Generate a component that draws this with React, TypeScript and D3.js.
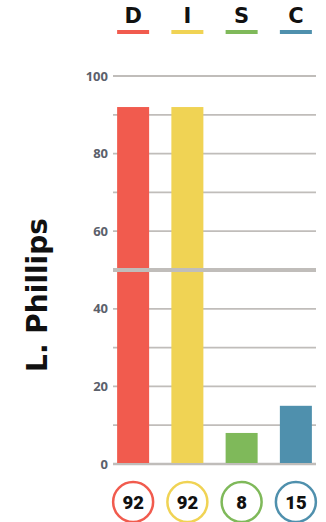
import React, { useEffect, useRef } from 'react';
import * as d3 from 'd3';

const categories = ['D', 'I', 'S', 'C'];
const values = [92, 92, 8, 15];
const colors = ['#F15B4E', '#F0D354', '#7FB95A', '#4F90AD'];
const tickLabels = [0, 20, 40, 60, 80, 100];
const gridValues = [0, 10, 20, 30, 40, 60, 70, 80, 90, 100];
const personName = 'L. Phillips';

const App = () => {
  const ref = useRef(null);

  useEffect(() => {
    const svg = d3.select(ref.current);
    svg.selectAll('*').remove();

    const font = "'DejaVu Sans', sans-serif";

    const x = d3.scaleBand()
      .domain(categories)
      .range([106, 323])
      .paddingInner(0.41)
      .paddingOuter(0.205);

    const y = d3.scaleLinear()
      .domain([0, 100])
      .range([464, 76]);

    // gridlines
    svg.append('g')
      .selectAll('line')
      .data(gridValues)
      .enter().append('line')
      .attr('x1', 113)
      .attr('x2', 316)
      .attr('y1', d => y(d))
      .attr('y2', d => y(d))
      .attr('stroke', '#C0BDBA')
      .attr('stroke-width', d => (d === 0 ? 2.5 : 1.8));

    // tick labels
    svg.append('g')
      .selectAll('text')
      .data(tickLabels)
      .enter().append('text')
      .attr('x', 108)
      .attr('y', d => y(d))
      .attr('dy', '0.36em')
      .attr('text-anchor', 'end')
      .style('font-family', "'Open Sans', sans-serif")
      .style('font-weight', 'bold')
      .style('font-size', '13px')
      .style('fill', '#5B606B')
      .text(d => d);

    // bars
    svg.append('g')
      .selectAll('rect')
      .data(values)
      .enter().append('rect')
      .attr('x', (d, i) => x(categories[i]))
      .attr('y', d => y(d))
      .attr('width', x.bandwidth())
      .attr('height', d => y(0) - y(d) - 1)
      .attr('fill', (d, i) => colors[i]);

    // midline at 50
    svg.append('line')
      .attr('x1', 113)
      .attr('x2', 316)
      .attr('y1', y(50))
      .attr('y2', y(50))
      .attr('stroke', '#C0BDBA')
      .attr('stroke-width', 4);

    // legend on top
    const legend = svg.append('g')
      .selectAll('g')
      .data(categories)
      .enter().append('g')
      .attr('transform', d => `translate(${x(d) + x.bandwidth() / 2},0)`);

    legend.append('text')
      .attr('y', 23)
      .attr('text-anchor', 'middle')
      .style('font-family', font)
      .style('font-weight', 'bold')
      .style('font-size', '21px')
      .style('fill', '#111')
      .text(d => d);

    legend.append('rect')
      .attr('x', -x.bandwidth() / 2)
      .attr('y', 30)
      .attr('width', x.bandwidth())
      .attr('height', 4)
      .attr('fill', (d, i) => colors[i]);

    // score circles
    const scores = svg.append('g')
      .selectAll('g')
      .data(values)
      .enter().append('g')
      .attr('transform', (d, i) => `translate(${x(categories[i]) + x.bandwidth() / 2},502)`);

    scores.append('circle')
      .attr('r', 20)
      .attr('fill', '#fff')
      .attr('stroke', (d, i) => colors[i])
      .attr('stroke-width', 2.5);

    scores.append('text')
      .attr('dy', '0.36em')
      .attr('text-anchor', 'middle')
      .style('font-family', 'Roboto, sans-serif')
      .style('font-weight', 900)
      .style('font-size', '18.5px')
      .style('fill', '#111')
      .text(d => d);

    // name label
    svg.append('text')
      .attr('transform', 'translate(47,295) rotate(-90)')
      .attr('text-anchor', 'middle')
      .style('font-family', font)
      .style('font-weight', 'bold')
      .style('font-size', '28px')
      .style('fill', '#111')
      .text(personName);
  }, []);

  return (
    <svg ref={ref} width={326} height={522} style={{ position: 'absolute', left: 0, top: 0 }}></svg>
  );
};

export default App;
